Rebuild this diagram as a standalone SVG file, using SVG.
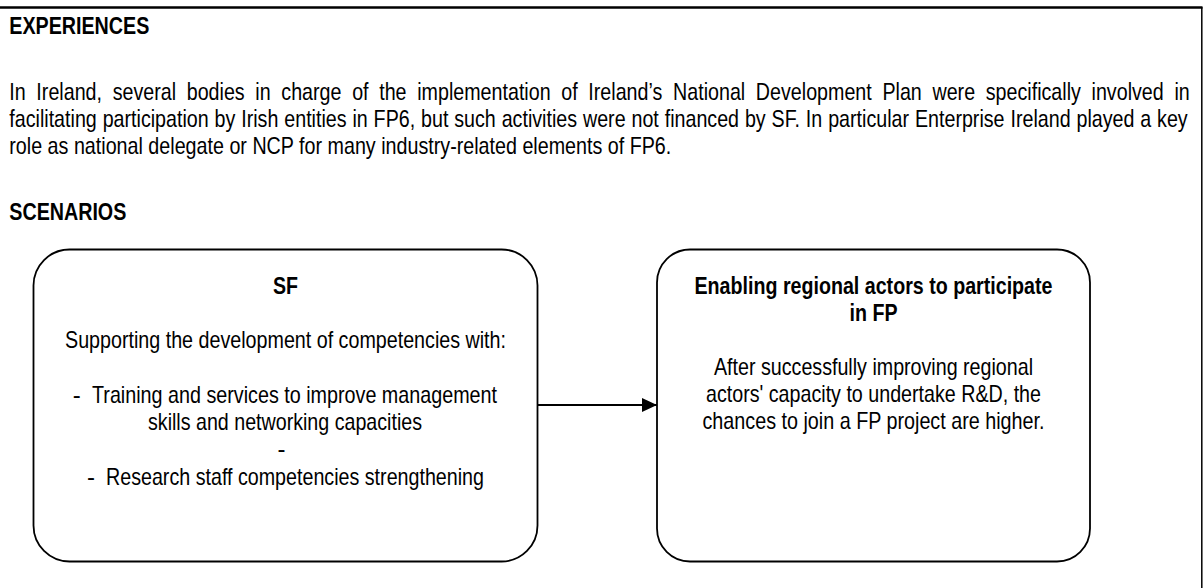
<svg xmlns="http://www.w3.org/2000/svg" width="1204" height="588" viewBox="0 0 1204 588">
  <style>
    text { font-family: "Liberation Sans Narrow", "Liberation Sans", Arial, sans-serif; font-size: 24px; fill: #000; }
    .b { font-weight: bold; }
    .m { text-anchor: middle; }
    .box { fill: #fff; stroke: #000; stroke-width: 1.8; }
    .frame { stroke: #000; fill: none; }
    .conn { stroke: #000; stroke-width: 1.8; fill: none; }
  </style>
  <defs>
    <marker id="arrow" markerUnits="userSpaceOnUse" markerWidth="16" markerHeight="14" refX="15" refY="7" orient="auto">
      <path d="M0,0 L15,7 L0,14 Z" fill="#000"/>
    </marker>
  </defs>
  <rect x="0" y="0" width="1204" height="588" fill="#fff"/>

  <g id="frame">
    <line class="frame" x1="0" y1="7.5" x2="1202.5" y2="7.5" stroke-width="2.5"/>
    <line class="frame" x1="1201.8" y1="7" x2="1201.8" y2="588" stroke-width="1.5"/>
  </g>

  <g id="experiences">
    <text class="b" x="9.3" y="34" textLength="140" lengthAdjust="spacingAndGlyphs">EXPERIENCES</text>
    <g transform="scale(0.82,1)">
      <text x="11.34" y="100" word-spacing="6.34">In Ireland, several bodies in charge of the implementation of Ireland’s National Development Plan were specifically involved in</text>
      <text x="11.34" y="127" word-spacing="0.49">facilitating participation by Irish entities in FP6, but such activities were not financed by SF. In particular Enterprise Ireland played a key</text>
    </g>
    <text x="9.3" y="154" textLength="662" lengthAdjust="spacingAndGlyphs">role as national delegate or NCP for many industry-related elements of FP6.</text>
  </g>

  <g id="scenarios-heading">
    <text class="b" x="9.3" y="220" textLength="117" lengthAdjust="spacingAndGlyphs">SCENARIOS</text>
  </g>

  <g id="connectors">
    <line class="conn" x1="537.5" y1="405" x2="657" y2="405" marker-end="url(#arrow)"/>
  </g>

  <g id="node-sf">
    <rect class="box" x="33.5" y="249.5" width="504" height="312" rx="36" ry="36"/>
    <text class="b m" x="285.5" y="294" textLength="25" lengthAdjust="spacingAndGlyphs">SF</text>
    <text class="m" x="285.5" y="348" textLength="441" lengthAdjust="spacingAndGlyphs">Supporting the development of competencies with:</text>
    <text x="72.7" y="403">-</text>
    <text x="92" y="403" textLength="405" lengthAdjust="spacingAndGlyphs">Training and services to improve management</text>
    <text class="m" x="285" y="430" textLength="274" lengthAdjust="spacingAndGlyphs">skills and networking capacities</text>
    <text x="277.5" y="457">-</text>
    <text x="87" y="485">-</text>
    <text x="106" y="485" textLength="378" lengthAdjust="spacingAndGlyphs">Research staff competencies strengthening</text>
  </g>

  <g id="node-fp">
    <rect class="box" x="657" y="249.5" width="433" height="312" rx="33" ry="33"/>
    <text class="b m" x="873.5" y="294" textLength="358" lengthAdjust="spacingAndGlyphs">Enabling regional actors to participate</text>
    <text class="b m" x="873.5" y="321" textLength="48" lengthAdjust="spacingAndGlyphs">in FP</text>
    <text class="m" x="873.5" y="375" textLength="319" lengthAdjust="spacingAndGlyphs">After successfully improving regional</text>
    <text class="m" x="873.5" y="402" textLength="335" lengthAdjust="spacingAndGlyphs">actors' capacity to undertake R&amp;D, the</text>
    <text class="m" x="873.5" y="429" textLength="342" lengthAdjust="spacingAndGlyphs">chances to join a FP project are higher.</text>
  </g>
</svg>
